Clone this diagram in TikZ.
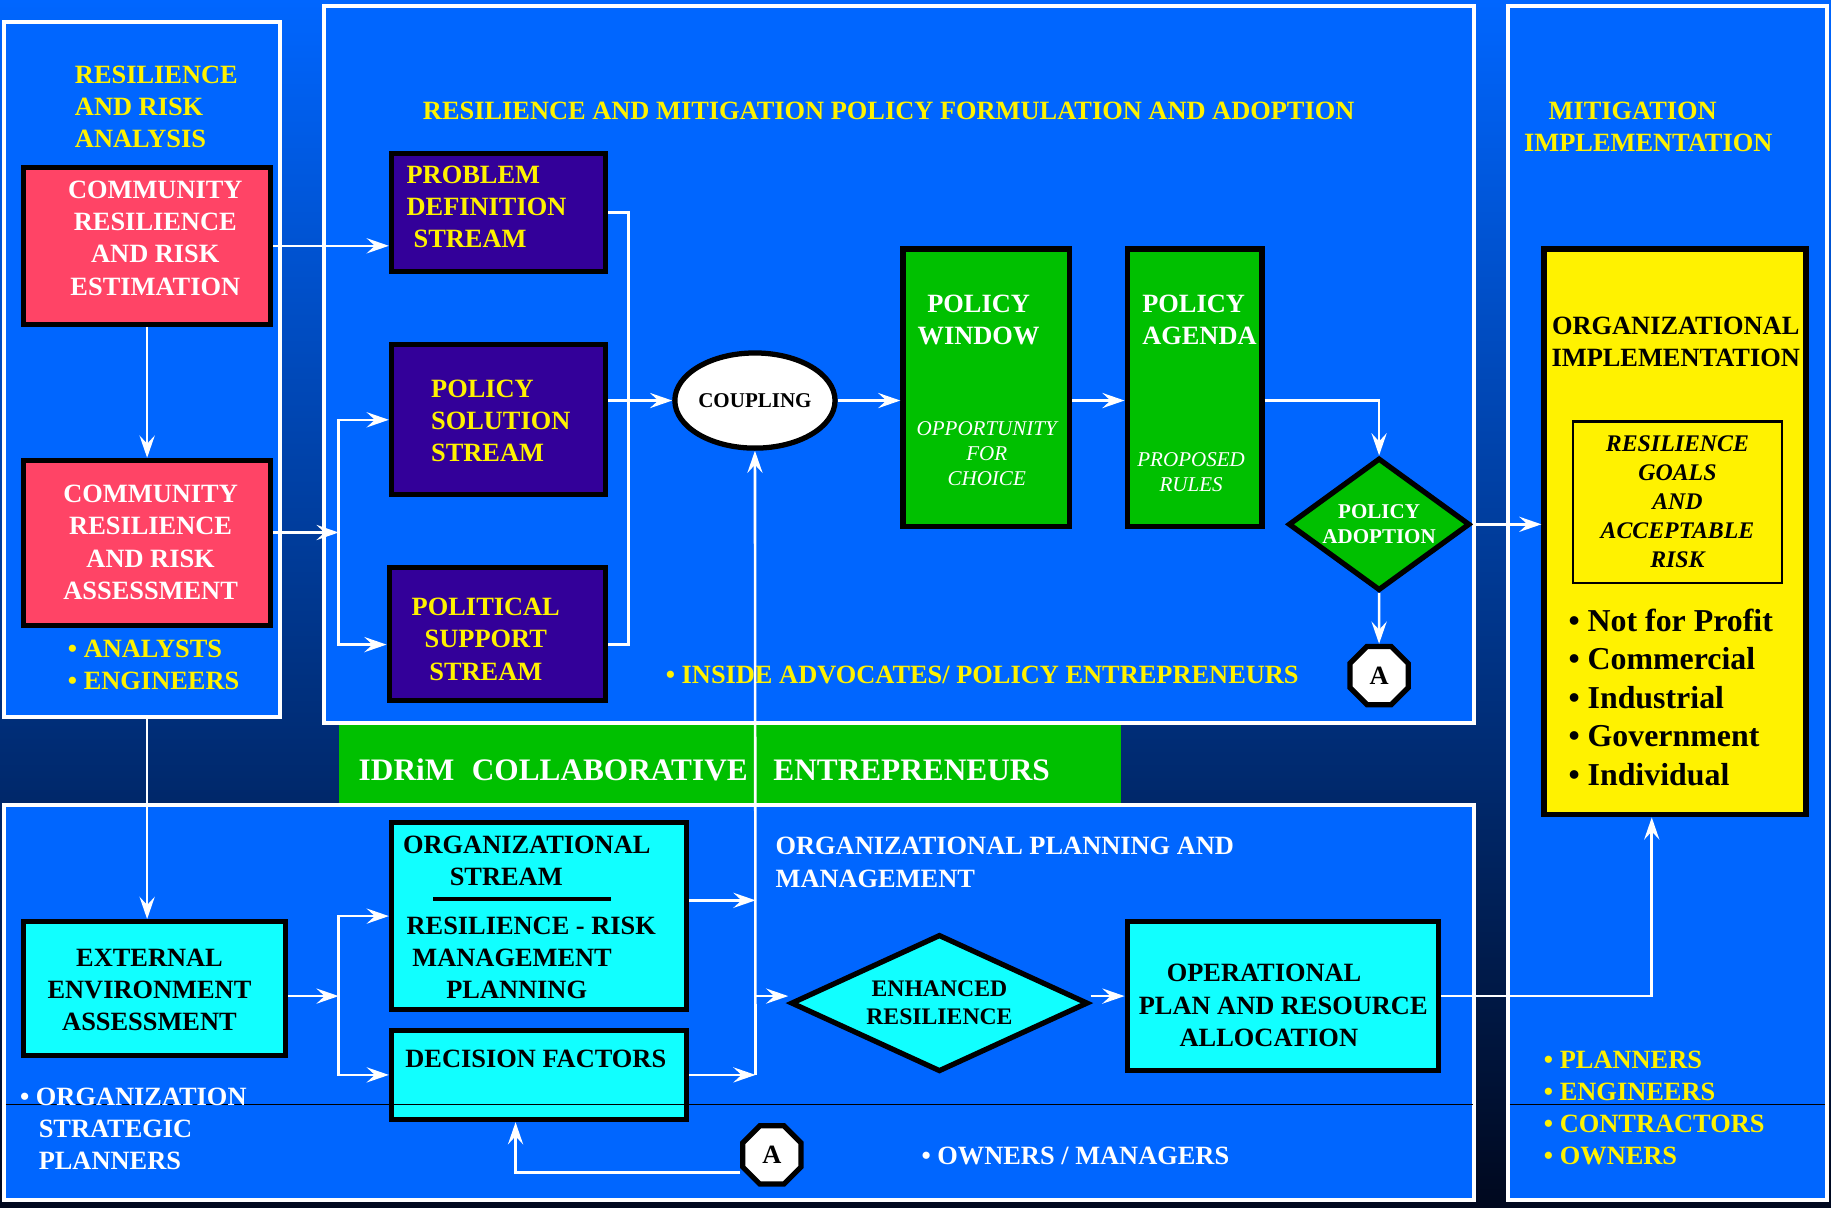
\documentclass[tikz,border=0pt]{standalone}
\usepackage{fontspec}
\setmainfont{Liberation Serif}
\usetikzlibrary{arrows.meta,shapes.geometric,positioning}

\definecolor{topblue}{RGB}{0,102,255}
\definecolor{midblue}{RGB}{0,72,186}
\definecolor{botblue}{RGB}{0,8,30}
\definecolor{panelblue}{RGB}{0,102,255}
\definecolor{riskred}{RGB}{255,68,102}
\definecolor{streampurple}{RGB}{51,0,153}
\definecolor{policygreen}{RGB}{0,192,0}
\definecolor{orgcyan}{RGB}{17,255,255}

\newcommand\szmain{\fontsize{22.6}{27.5}\selectfont}
\newcommand\szsmall{\fontsize{18}{21.5}\selectfont}
\newcommand\szgoal{\fontsize{20.4}{24.8}\selectfont}
\newcommand\szenh{\fontsize{20.3}{24}\selectfont}
\newcommand\szbullet{\fontsize{27.3}{33}\selectfont}
\newcommand\szband{\fontsize{26.8}{30}\selectfont}

\begin{document}
\begin{tikzpicture}[x=1pt, y=-1pt,
    panel/.style={draw=white, line width=3.5pt, fill=panelblue, inner sep=0pt},
    box/.style={draw=black, line width=4.5pt, inner sep=0pt},
    wire/.style={draw=white, line width=2.2pt},
    arr/.style={wire, -{Stealth[length=19pt, width=13pt, inset=7pt]}},
    txt/.style={inner sep=0pt, font=\bfseries\szmain, align=center},
    ytxt/.style={txt, text=yellow},
    wtxt/.style={txt, text=white},
    btxt/.style={txt, text=black},
    ital/.style={inner sep=0pt, font=\itshape\szsmall, align=center, text=white}]

\useasboundingbox (0,0) rectangle (1568,1034);
\shade[top color=topblue, middle color=midblue, bottom color=botblue] (0,0) rectangle (1568,1034);

% panels
\node[fill=policygreen, minimum width=670pt, minimum height=67pt, inner sep=0pt] (band) at (625,654.5) {};
\node[panel, minimum width=236.5pt, minimum height=595.5pt] (p1) at (121.9,316.5) {};
\node[panel, minimum width=984.5pt, minimum height=614.5pt] (p2) at (770,312) {};
\node[panel, minimum width=272.5pt, minimum height=1022.5pt] (p3) at (1428,516) {};
\node[panel, minimum width=1258.5pt, minimum height=337.5pt] (p4) at (633,858.5) {};

% boxes
\node[box, fill=riskred, minimum width=211.5pt, minimum height=134.5pt] (est) at (126,210.5) {};
\node[box, fill=riskred, minimum width=211.5pt, minimum height=141.5pt] (assess) at (126,465) {};
\node[box, fill=streampurple, minimum width=183.5pt, minimum height=101.5pt] (prob) at (427,182) {};
\node[box, fill=streampurple, minimum width=183.5pt, minimum height=128.5pt] (sol) at (427,359.5) {};
\node[box, fill=streampurple, minimum width=185.5pt, minimum height=113.5pt] (pol) at (426,543) {};
\node[box, ellipse, fill=white, minimum width=128.5pt, minimum height=81.5pt, font=\bfseries\szsmall] (coup) at (646.5,343) {COUPLING};
\node[box, fill=policygreen, minimum width=142.5pt, minimum height=237.5pt] (window) at (844.5,332) {};
\node[box, fill=policygreen, minimum width=115.5pt, minimum height=237.5pt] (agenda) at (1023,332) {};
\node[box, diamond, aspect=1.37, fill=policygreen, minimum width=155.5pt, minimum height=113.5pt,
      text=white, font=\bfseries\szsmall, align=center] (adopt) at (1181,449) {POLICY\\ADOPTION};
\node[box, regular polygon, regular polygon sides=8, fill=white, minimum size=54pt, font=\bfseries\szmain] (octA) at (1181,578.5) {A};
\node[box, line width=5pt, fill=yellow, minimum width=224pt, minimum height=484pt] (impl) at (1434.5,455.5) {};
\node[draw=black, line width=2pt, minimum width=179pt, minimum height=138pt, inner sep=0pt,
      font=\bfseries\itshape\szgoal, align=center] (goals) at (1436.5,430) {RESILIENCE\\GOALS\\AND\\ACCEPTABLE\\RISK};
\node[box, fill=orgcyan, minimum width=224.5pt, minimum height=114.5pt] (ext) at (132.5,846.5) {};
\node[box, fill=orgcyan, minimum width=252.5pt, minimum height=160.5pt] (org) at (461.5,784.5) {};
\node[box, fill=orgcyan, minimum width=252.5pt, minimum height=76.5pt] (dec) at (461.5,920.5) {};
\node[box, diamond, aspect=2.17, fill=orgcyan, minimum width=254.5pt, minimum height=117.5pt,
      font=\bfseries\szenh, align=center] (enh) at (804.5,859) {ENHANCED\\RESILIENCE};
\node[box, fill=orgcyan, minimum width=266.5pt, minimum height=127.5pt] (oper) at (1098.5,853) {};
\node[box, regular polygon, regular polygon sides=8, fill=white, minimum size=54pt, font=\bfseries\szmain] (octB) at (661,989) {A};

% thin rule
\draw[line width=0.8pt, black] (5,945.5) -- (1261,945.5);
\draw[line width=0.8pt, black] (1293,945.5) -- (1563,945.5);

% texts
\node[ytxt, align=left, anchor=west] (analysis) at (64,91.5) {RESILIENCE\\AND RISK\\ANALYSIS};
\node[wtxt] (est-t) at (133,204) {COMMUNITY\\RESILIENCE\\AND RISK\\ESTIMATION};
\node[wtxt] (assess-t) at (129,464.5) {COMMUNITY\\RESILIENCE\\AND RISK\\ASSESSMENT};
\node[ytxt, align=left, anchor=west] (analysts) at (58,569) {• ANALYSTS\\• ENGINEERS};
\node[ytxt, anchor=west] (formulation) at (362,95) {RESILIENCE AND MITIGATION POLICY FORMULATION AND ADOPTION};
\node[ytxt, align=left, anchor=west] (prob-t) at (348,177) {PROBLEM\\DEFINITION\\\hspace*{6pt}STREAM};
\node[ytxt, align=left, anchor=west] (sol-t) at (369,360.5) {POLICY\\SOLUTION\\STREAM};
\node[ytxt] (pol-t) at (416,547.5) {POLITICAL\\SUPPORT\\STREAM};
\node[wtxt] (window-t) at (838,274) {POLICY\\WINDOW};
\node[ital] (window-i) at (845,388.5) {OPPORTUNITY\\FOR\\CHOICE};
\node[wtxt, align=left, anchor=west] (agenda-t) at (978,274) {POLICY\\AGENDA};
\node[ital] (agenda-i) at (1020,404.5) {PROPOSED\\RULES};
\node[ytxt, anchor=west] (advocates) at (570,578) {• INSIDE ADVOCATES/ POLICY ENTREPRENEURS};
\node[ytxt, align=left, anchor=west] (mitig) at (1305,109) {\hspace*{21pt}MITIGATION\\IMPLEMENTATION};
\node[btxt] (impl-t) at (1435,292.5) {ORGANIZATIONAL\\IMPLEMENTATION};
\node[btxt, align=left, anchor=west, font=\bfseries\szbullet] (sectors) at (1343,597) {• Not for Profit\\• Commercial\\• Industrial\\• Government\\• Individual};
\node[ytxt, align=left, anchor=west] (staff) at (1322,949) {• PLANNERS\\• ENGINEERS\\• CONTRACTORS\\• OWNERS};
\node[wtxt, anchor=west, font=\bfseries\szband] (band-t) at (307,659) {IDRiM\hspace{15pt}COLLABORATIVE\hspace{22pt}ENTREPRENEURS};
\node[btxt] (ext-t) at (128,847.5) {EXTERNAL\\ENVIRONMENT\\ASSESSMENT};
\node[btxt, align=left, anchor=west] (org-t) at (345,737.5) {ORGANIZATIONAL\\\hspace*{40pt}STREAM};
\draw[line width=3pt] (371,770) -- (523,770);
\node[btxt, align=left, anchor=west] (org-p) at (348,820.5) {RESILIENCE - RISK\\\hspace*{5pt}MANAGEMENT\\\hspace*{34pt}PLANNING};
\node[btxt, anchor=west] (dec-t) at (347,907) {DECISION FACTORS};
\node[btxt, align=left, anchor=west] (oper-t) at (975,861) {\hspace*{24pt}OPERATIONAL\\PLAN AND RESOURCE\\\hspace*{35pt}ALLOCATION};
\node[wtxt, align=left, anchor=west] (orgplan) at (664,738.5) {ORGANIZATIONAL PLANNING AND\\MANAGEMENT};
\node[wtxt, align=left, anchor=west] (strategic) at (17,966.5) {• ORGANIZATION\\\hspace*{16pt}STRATEGIC\\\hspace*{16pt}PLANNERS};
\node[wtxt, anchor=west] (owners) at (789,990) {• OWNERS / MANAGERS};

% connectors
\coordinate (j1) at (290,456);
\coordinate (j2) at (290,853);
\coordinate (j3) at (647,853);
\coordinate (polout) at ([yshift=-9pt]pol.east);
\coordinate (orgout) at ([yshift=13.5pt]org.east);

\draw[arr] (est.east) -- (est.east -| prob.west);
\draw[arr] (est) -- (assess);
\draw[arr] (assess.east |- j1) -- (j1);
\draw[arr] (j1) |- (sol.west);
\draw[arr] (j1) |- ([yshift=-9pt]pol.west);
\draw[wire] (prob.east) -- ++(17,0) |- (polout);
\draw[arr] (sol.east |- coup.west) -- (coup.west);
\draw[arr] (coup.east) -- (coup.east -| window.west);
\draw[arr] (window.east |- coup.east) -- (agenda.west |- coup.east);
\draw[arr] (agenda.east |- coup.east) -| (adopt.north);
\draw[arr] (adopt) -- (octA);
\draw[arr] (adopt.east) -- (adopt.east -| impl.west);

\draw[arr] (assess |- p1.south) -- (assess |- ext.north);
\draw[arr] (ext.east |- j2) -- (j2);
\draw[arr] (j2) |- (org.west);
\draw[arr] (j2) |- (dec.west);
\draw[arr] (orgout) -- (orgout -| j3);
\draw[arr] (dec.east) -- (dec.east -| j3);
\draw[arr] (dec.east -| j3) -- (coup.south);
\draw[arr] (j3) -- (j3 -| enh.west);
\draw[arr] (enh.east |- j3) -- (oper.west |- j3);
\draw[arr] (oper.east) -| ([xshift=-20pt]impl.south);
\draw[arr] ([yshift=-15pt]octB.west) -| ([xshift=-20pt]dec.south);
\end{tikzpicture}
\end{document}
